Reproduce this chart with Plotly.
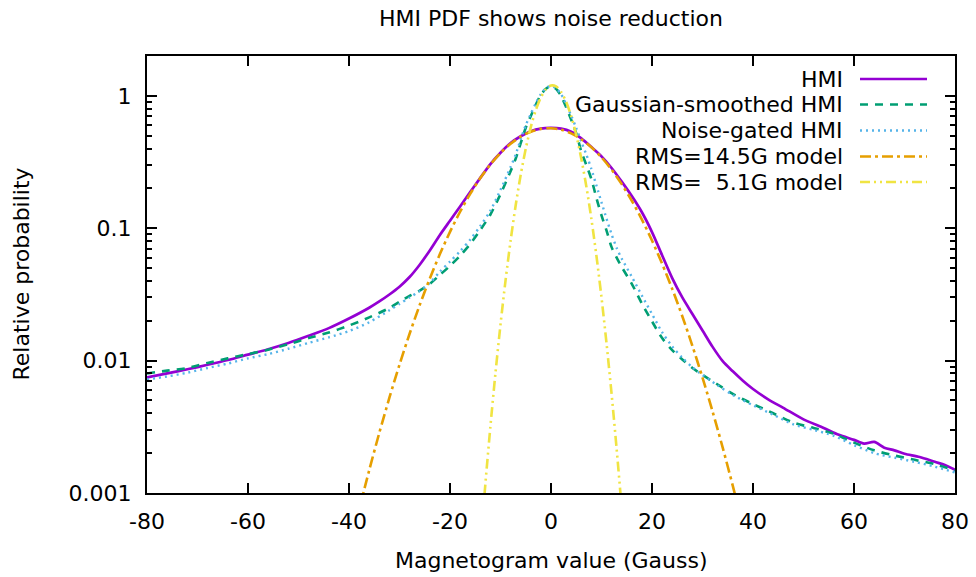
import math
import plotly.graph_objects as go

# ---------------- data ----------------
hmi_x = [-80, -76, -72, -68, -64, -60, -56, -52, -48, -44, -40, -36, -34, -32, -30, -28, -26, -24, -22,
         -20, -18, -16, -14, -12, -10, -8, -6, -4, -2, 0, 2, 4, 6, 8, 10, 12, 14, 16, 18, 20, 22,
         24, 26, 28, 30, 32, 34, 36, 38, 40, 43, 46, 50, 54, 57, 60, 62, 64, 66, 68, 70, 73, 76, 78, 80]
hmi_y = [0.00748, 0.0080, 0.0086, 0.0093, 0.0101, 0.0111, 0.0122, 0.0136, 0.0154, 0.0176, 0.0208,
         0.0251, 0.0280, 0.0316, 0.0362, 0.0428, 0.0530, 0.0680, 0.089, 0.114, 0.146, 0.188, 0.240, 0.305,
         0.372, 0.440, 0.495, 0.541, 0.566, 0.572, 0.565, 0.535, 0.477, 0.410, 0.349, 0.285, 0.225,
         0.175, 0.132, 0.0935, 0.0625, 0.042, 0.030, 0.0225, 0.0169, 0.0127, 0.0099, 0.0083, 0.00705,
         0.0061, 0.0051, 0.0044, 0.0036, 0.0031, 0.00275, 0.00252, 0.00236, 0.00243, 0.00220,
         0.00210, 0.00198, 0.00187, 0.00172, 0.00163, 0.00150]

smooth_x = [-80, -76, -72, -68, -64, -60, -56, -52, -48, -44, -40, -36, -32, -30, -28, -26, -24, -22,
            -20, -18, -16, -14, -12, -10, -8, -7, -6, -5, -4, -3, -2, -1, 0, 1, 2, 3, 4, 5, 6, 7, 8,
            9, 10, 11, 12, 13, 14, 16, 18, 20, 22, 24, 26, 28, 30, 33, 36, 40, 44, 48, 52, 56, 60,
            64, 68, 72, 76, 80]
smooth_y = [0.0080, 0.0084, 0.0088, 0.0096, 0.0104, 0.0112, 0.0121, 0.0133, 0.0148, 0.0163, 0.0184,
            0.0212, 0.0250, 0.0278, 0.0308, 0.0338, 0.0380, 0.0444, 0.052, 0.062, 0.076, 0.097,
            0.127, 0.181, 0.270, 0.335, 0.439, 0.575, 0.705, 0.86, 1.02, 1.13, 1.19, 1.13, 1.0,
            0.82, 0.66, 0.52, 0.38, 0.30, 0.235, 0.169, 0.125, 0.096, 0.072, 0.060, 0.051, 0.038,
            0.027, 0.0198, 0.0148, 0.0120, 0.0102, 0.0088, 0.0078, 0.0066, 0.0056, 0.0047, 0.0040,
            0.0034, 0.0031, 0.0028, 0.0024, 0.0021, 0.00192, 0.00178, 0.00165, 0.00148]

gated_x = smooth_x
gated_y = [0.0072, 0.0076, 0.0081, 0.0088, 0.0095, 0.0104, 0.0112, 0.0123, 0.0136, 0.0150, 0.0167,
           0.0195, 0.0240, 0.0268, 0.0300, 0.0335, 0.0385, 0.0470, 0.056, 0.067, 0.082, 0.104,
           0.136, 0.195, 0.290, 0.36, 0.47, 0.60, 0.73, 0.88, 1.03, 1.14, 1.19, 1.14, 1.03, 0.86,
           0.71, 0.57, 0.45, 0.36, 0.28, 0.21, 0.157, 0.118, 0.090, 0.071, 0.059, 0.043, 0.031,
           0.0225, 0.0164, 0.0128, 0.0105, 0.0089, 0.0078, 0.0065, 0.0055, 0.0046, 0.0039, 0.0033,
           0.0030, 0.0027, 0.0023, 0.0020, 0.00185, 0.00172, 0.00158, 0.00143]

model145_x = [-38, -36, -34, -32, -30, -28, -26, -24, -22, -20, -18, -16, -14, -12, -10, -8, -6, -4,
              -2, 0, 2, 4, 6, 8, 10, 12, 14, 16, 18, 20, 22, 24, 26, 28, 30, 32, 34, 36, 38]
model145_y = [0.000748, 0.001486, 0.002846, 0.005245, 0.00932, 0.01595, 0.02628, 0.04171, 0.0638,
              0.0939, 0.1332, 0.1818, 0.2392, 0.3030, 0.3698, 0.4346, 0.4920, 0.5364, 0.5632,
              0.5696, 0.5548, 0.5205, 0.4703, 0.4093, 0.3430, 0.2769, 0.2154, 0.1613, 0.1163,
              0.0808, 0.0540, 0.03484, 0.02163, 0.01292, 0.00744, 0.004125, 0.002201, 0.001132,
              0.000561]

model51_x = [-14, -13, -12, -11, -10, -9, -8, -7, -6, -5, -4, -3, -2, -1, 0, 1, 2, 3, 4, 5, 6, 7, 8,
             9, 10, 11, 12, 13, 14, 15]
model51_y = [0.000395, 0.001164, 0.00318, 0.00803, 0.01873, 0.0404, 0.0805, 0.1484, 0.2531, 0.3989,
             0.5812, 0.7829, 0.9751, 1.123, 1.196, 1.177, 1.071, 0.9017, 0.7015, 0.5046, 0.3356,
             0.2064, 0.1173, 0.0617, 0.02997, 0.01347, 0.005594, 0.002148, 0.000763, 0.00025]

series_names = ["HMI", "Gaussian-smoothed HMI", "Noise-gated HMI",
                "RMS=14.5G model", "RMS=\u00a0\u00a05.1G model"]

x_tick_vals = [-80, -60, -40, -20, 0, 20, 40, 60, 80]
x_tick_text = ["-80", "-60", "-40", "-20", "0", "20", "40", "60", "80"]
y_tick_vals = [0.001, 0.01, 0.1, 1]
y_tick_text = ["0.001", "0.01", "0.1", "1"]

title_text = "HMI PDF shows noise reduction"
x_title = "Magnetogram value (Gauss)"
y_title = "Relative probability"

# ---------------- styles ----------------
colors = ["#9400d3", "#009e73", "#56b4e9", "#e69f00", "#f0e442"]
dashes = ["solid", "8px,7px", "2px,4px", "11px,4px,3px,4px", "10px,4px,2px,4px,2px,4px"]
widths = [2.7, 2.6, 2.4, 2.6, 2.6]

W, H = 976, 577
L, R, T, B = 147, 21, 56, 84
PW, PH = W - L - R, H - T - B
FONT = "DejaVu Sans"
FS = 22

def px_x(px):
    return (px - L) / PW

def px_y(py):
    return (H - B - py) / PH

fig = go.Figure()
all_series = [(hmi_x, hmi_y), (smooth_x, smooth_y), (gated_x, gated_y),
              (model145_x, model145_y), (model51_x, model51_y)]
for i, (xs, ys) in enumerate(all_series):
    fig.add_trace(go.Scatter(
        x=xs, y=ys, mode="lines", name=series_names[i],
        line=dict(color=colors[i], width=widths[i], dash=dashes[i], shape="spline", smoothing=0.8),
        showlegend=False, hoverinfo="skip"))

# manual gnuplot-style key: text right-aligned, sample line to the right
key_rows_px = [79, 104.5, 130.5, 156.5, 182]
text_right_px = 845
sample_px = (860, 927)
shapes = []
annotations = []
for i, name in enumerate(series_names):
    yy = px_y(key_rows_px[i])
    annotations.append(dict(
        x=px_x(text_right_px), y=yy, xref="paper", yref="paper",
        text=name, showarrow=False, xanchor="right", yanchor="middle",
        font=dict(family=FONT, size=FS, color="black")))
    shapes.append(dict(
        type="line", xref="paper", yref="paper",
        x0=px_x(sample_px[0]), x1=px_x(sample_px[1]), y0=yy, y1=yy,
        line=dict(color=colors[i], width=widths[i], dash=dashes[i])))

annotations.append(dict(
    x=px_x(21), y=0.5, xref="paper", yref="paper", text=y_title, textangle=-90,
    showarrow=False, xanchor="center", yanchor="middle",
    font=dict(family=FONT, size=FS, color="black")))
annotations.append(dict(
    x=0.5, y=px_y(560), xref="paper", yref="paper", text=x_title,
    showarrow=False, xanchor="center", yanchor="middle",
    font=dict(family=FONT, size=FS, color="black")))

minor_vals = [m * 10.0 ** e for e in (-3, -2, -1, 0) for m in range(2, 10) if m * 10.0 ** e <= 2.0]

fig.update_layout(
    width=W, height=H,
    margin=dict(l=L, r=R, t=T, b=B, autoexpand=False),
    paper_bgcolor="white", plot_bgcolor="white",
    font=dict(family=FONT, size=FS, color="black"),
    title=dict(text=title_text, x=551 / W, xanchor="center",
               y=1 - 18 / H, yanchor="middle", yref="container",
               font=dict(family=FONT, size=FS, color="black")),
    showlegend=False,
    shapes=shapes,
    annotations=annotations,
    xaxis=dict(range=[-80, 80], tickmode="array", tickvals=x_tick_vals, ticktext=x_tick_text,
               ticks="inside", ticklen=10, tickwidth=1.5, tickcolor="black",
               showline=True, linecolor="black", linewidth=2, mirror="ticks",
               showgrid=False, zeroline=False, ticklabelstandoff=8, automargin=False,
               tickfont=dict(family=FONT, size=FS, color="black")),
    yaxis=dict(type="log", range=[-3, math.log10(2.0)], tickmode="array",
               tickvals=y_tick_vals, ticktext=y_tick_text,
               ticks="inside", ticklen=10, tickwidth=1.5, tickcolor="black",
               minor=dict(tickmode="array", tickvals=minor_vals, ticks="inside", ticklen=5,
                          tickwidth=1.5, tickcolor="black", showgrid=False),
               showline=True, linecolor="black", linewidth=2, mirror="ticks",
               showgrid=False, zeroline=False, ticklabelstandoff=9, automargin=False,
               tickfont=dict(family=FONT, size=FS, color="black")),
)

fig.write_html("out.html", config={"displayModeBar": False},
               post_script="document.body.style.margin='0';document.body.style.overflow='hidden';")
